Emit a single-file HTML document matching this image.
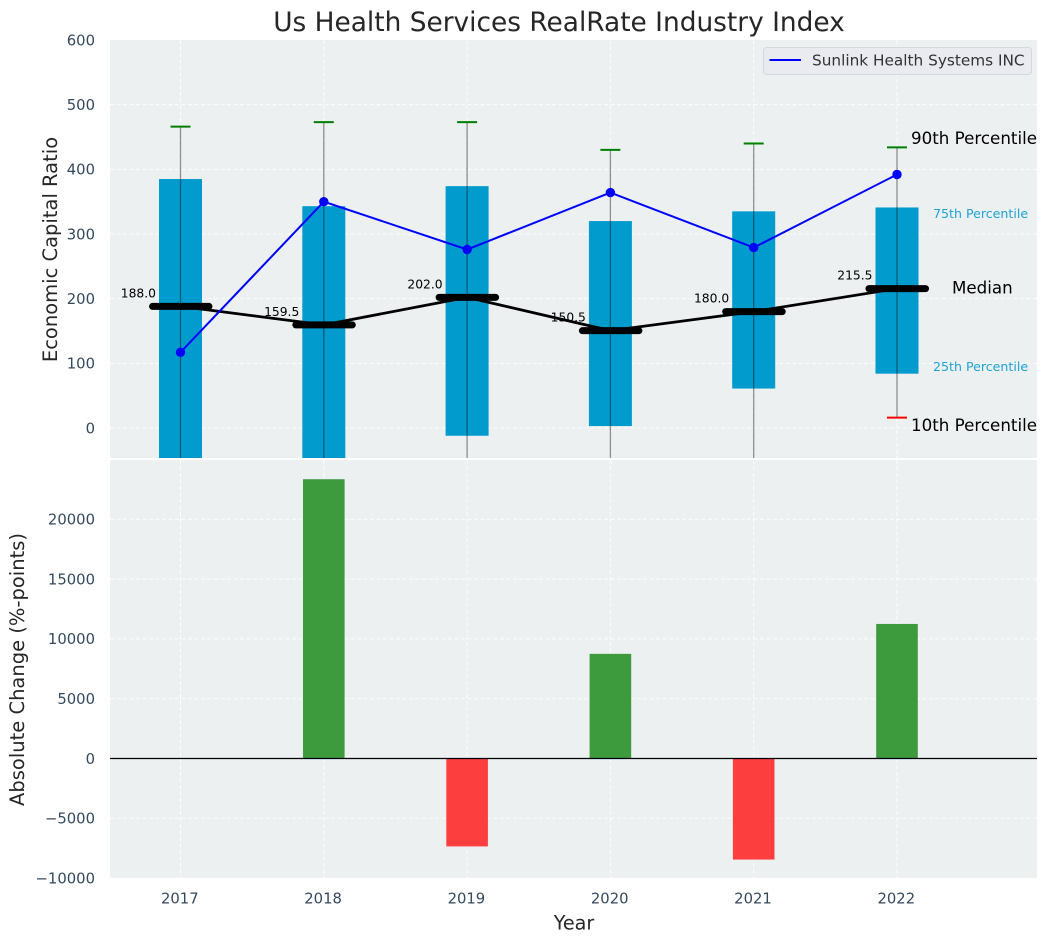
<!DOCTYPE html>
<html lang="en">
<head>
<meta charset="utf-8">
<title>Us Health Services RealRate Industry Index</title>
<style>
html,body{margin:0;padding:0;background:#fff;}
svg{display:block;font-family:"DejaVu Sans","Liberation Sans",sans-serif;}
</style>
</head>
<body>
<svg id="chart" xmlns="http://www.w3.org/2000/svg" width="1048" height="942" viewBox="0 0 1048 942">
<defs>
<clipPath id="clip-top"><rect x="110" y="40" width="927" height="418"/></clipPath>
<clipPath id="clip-bottom"><rect x="110" y="460" width="927" height="418"/></clipPath>
</defs>
<text x="559" y="31" text-anchor="middle" font-size="26.4" fill="#262626">Us Health Services RealRate Industry Index</text>
<rect x="110" y="40" width="927" height="418" fill="#ecf0f1"/>
<rect x="110" y="460" width="927" height="418" fill="#ecf0f1"/>
<g id="grid"></g>
<g id="top-marks" clip-path="url(#clip-top)"></g>
<g id="bottom-marks" clip-path="url(#clip-bottom)"></g>
<g id="labels"></g>
<g id="ticks"></g>
<text x="574" y="929.5" text-anchor="middle" font-size="19.2" fill="#262626">Year</text>
<text transform="translate(57,249.5) rotate(-90)" text-anchor="middle" font-size="19.5" fill="#262626">Economic Capital Ratio</text>
<text transform="translate(24,669.5) rotate(-90)" text-anchor="middle" font-size="19.5" fill="#262626">Absolute Change (%-points)</text>
<g>
<rect x="763.5" y="47.5" width="268" height="27" rx="3" fill="#e9ebf0" stroke="#d5d8dc" stroke-width="1"/>
<line x1="769.5" y1="60" x2="801" y2="60" stroke="#0000ff" stroke-width="2"/>
<text x="812" y="65.5" font-size="15.3" fill="#333">Sunlink Health Systems INC</text>
</g>
<text x="911" y="144" font-size="16.7" fill="#000">90th Percentile</text>
<text x="933" y="218" font-size="12.6" fill="#1fa3d3">75th Percentile</text>
<text x="952" y="293.5" font-size="16.7" fill="#000">Median</text>
<text x="933" y="371" font-size="12.6" fill="#1fa3d3">25th Percentile</text>
<text x="911" y="431" font-size="16.7" fill="#000">10th Percentile</text>
</svg>
<script>
const years = [2017, 2018, 2019, 2020, 2021, 2022];
const p90 = [466, 473, 473, 430, 440, 434];
const p75 = [385, 343, 374, 320, 335, 341];
const medians = [188, 159.5, 202, 150.5, 180, 215.5];
const p25 = [-70, -60, -12, 3, 61, 84];
const p10 = [-150, -140, -90, -80, -60, 16];
const company = [117, 350, 276, 364, 279, 392];
const changes = [0, 23350, -7350, 8750, -8450, 11250];
const topTicks = [0, 100, 200, 300, 400, 500, 600];
const bottomTicks = [-10000, -5000, 0, 5000, 10000, 15000, 20000];

const NS = 'http://www.w3.org/2000/svg';
const sx = v => 180.5 + (v - 2017) * 143.3;
const syTop = v => 428 - v * 0.6467;
const syBottom = v => 758.5 - v * 0.01196;
const gridG = document.getElementById('grid');
const topG = document.getElementById('top-marks');
const bottomG = document.getElementById('bottom-marks');
const labelG = document.getElementById('labels');
const tickG = document.getElementById('ticks');

function make(tag, parent, props) {
  const el = document.createElementNS(NS, tag);
  for (const k in props) el.setAttribute(k, props[k]);
  parent.appendChild(el);
  return el;
}
const gridStyle = {stroke: '#ffffff', 'stroke-width': 1, 'stroke-dasharray': '4 2.5', 'stroke-opacity': 0.85, fill: 'none'};
const tickColor = '#34495e';

years.forEach(y => {
  const xpos = sx(y);
  const g1 = make('line', gridG, Object.assign({x1: xpos, x2: xpos, y1: 40, y2: 458}, gridStyle));
  
  
  const g2 = make('line', gridG, Object.assign({x1: xpos, x2: xpos, y1: 460, y2: 878}, gridStyle));
  
  
  const t = make('text', tickG, {x: xpos - 0.7, y: 903.5, 'text-anchor': 'middle', 'font-size': 14.8, fill: tickColor});
  t.textContent = String(y);
  
  
});
topTicks.forEach(v => {
  const ypos = syTop(v);
  if (v < 600) {
    const g = make('line', gridG, Object.assign({x1: 110, x2: 1037, y1: ypos, y2: ypos}, gridStyle));
    
    
  }
  const t = make('text', tickG, {x: 95, y: ypos + 5.3, 'text-anchor': 'end', 'font-size': 14.8, fill: tickColor});
  t.textContent = String(v);
  
  
});
bottomTicks.forEach(v => {
  const ypos = syBottom(v);
  const g = make('line', gridG, Object.assign({x1: 110, x2: 1037, y1: ypos, y2: ypos}, gridStyle));
  
  
  const t = make('text', tickG, {x: 95, y: ypos + 5.3, 'text-anchor': 'end', 'font-size': 14.8, fill: tickColor});
  t.textContent = String(v).replace('-', '\u2212');
  
  
});

/* percentile boxes */
years.forEach((y, i) => {
  const xpos = sx(y);
  const top = syTop(p75[i]);
  const box = make('rect', topG, {x: xpos - 21.5, y: top, width: 43, height: syTop(p25[i]) - top, fill: '#019ccd'});
  
  
});
/* whiskers and caps */
years.forEach((y, i) => {
  const xpos = sx(y);
  const w = make('line', topG, {x1: xpos, x2: xpos, y1: syTop(p90[i]), y2: syTop(p10[i]), stroke: '#000', 'stroke-opacity': 0.42, 'stroke-width': 1.3});
  
  
  const c1 = make('line', topG, {x1: xpos - 10, x2: xpos + 10, y1: syTop(p90[i]), y2: syTop(p90[i]), stroke: '#008000', 'stroke-width': 2});
  
  
  const c2 = make('line', topG, {x1: xpos - 10, x2: xpos + 10, y1: syTop(p10[i]), y2: syTop(p10[i]), stroke: '#ff0000', 'stroke-width': 2});
  
  
});
/* median line */
const medianPath = make('polyline', topG, {points: years.map((y, i) => sx(y) + ',' + syTop(medians[i])).join(' '), fill: 'none', stroke: '#000', 'stroke-width': 2.8, 'stroke-linejoin': 'round'});


years.forEach((y, i) => {
  const xpos = sx(y);
  const ypos = syTop(medians[i]);
  const m = make('line', topG, {x1: xpos - 28, x2: xpos + 28.5, y1: ypos, y2: ypos, stroke: '#000', 'stroke-width': 7, 'stroke-linecap': 'round'});
  
  
  const t = make('text', labelG, {x: xpos - 24.5, y: ypos - 9, 'text-anchor': 'end', 'font-size': 12.3, fill: '#000'});
  t.textContent = medians[i].toFixed(1);
  
  
});
/* company line */
const companyPath = make('polyline', topG, {points: years.map((y, i) => sx(y) + ',' + syTop(company[i])).join(' '), fill: 'none', stroke: '#0000ff', 'stroke-width': 2});


years.forEach((y, i) => {
  const d = make('circle', topG, {cx: sx(y), cy: syTop(company[i]), r: 4.7, fill: '#0000ff'});
  
  
});
/* change bars */
years.forEach((y, i) => {
  const v = changes[i];
  if (!v) return;
  const y0 = syBottom(0);
  const y1 = syBottom(v);
  const b = make('rect', bottomG, {x: sx(y) - 20.8, y: Math.min(y0, y1), width: 41.6, height: Math.abs(y1 - y0), fill: v > 0 ? '#2a9029' : '#ff2a2a', 'fill-opacity': 0.9});
  
  
});
const zero = make('line', bottomG, {x1: 110, x2: 1037, y1: syBottom(0), y2: syBottom(0), stroke: '#000', 'stroke-width': 1.3});


</script>
</body>
</html>
